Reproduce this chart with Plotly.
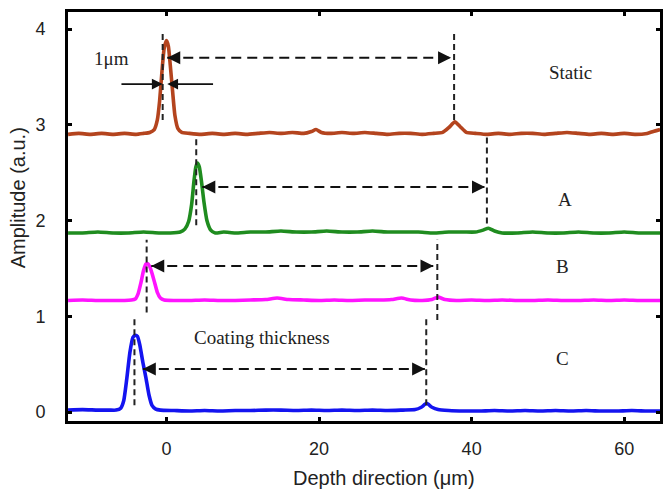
import plotly.graph_objects as go

# ---------------- data ----------------
static_x = [-12.9, -11.5, -10.0, -8.5, -7.0, -5.5, -4.0, -3.0,
            -2.2, -1.6, -1.2, -0.9, -0.6, -0.3, 0.0, 0.25,
            0.5, 0.8, 1.1, 1.5, 2.0, 3.0, 4.5, 6.0,
            7.5, 9.0, 10.5, 12.0, 13.5, 15.0, 16.5, 18.0,
            19.0, 19.6, 20.3, 21.5, 23.0, 24.5, 26.0, 27.5,
            29.0, 30.5, 32.0, 33.5, 35.0, 36.2, 37.0, 37.8,
            38.5, 39.3, 40.5, 42.0, 43.5, 45.0, 46.5, 48.0,
            49.5, 51.0, 52.5, 54.0, 55.5, 57.0, 58.5, 60.0,
            61.5, 63.0, 63.8, 64.7]
static_y = [2.90, 2.91, 2.90, 2.91, 2.90, 2.91, 2.90, 2.91,
            2.92, 2.95, 3.05, 3.25, 3.55, 3.80, 3.88, 3.82,
            3.62, 3.35, 3.10, 2.96, 2.92, 2.91, 2.90, 2.91,
            2.90, 2.91, 2.90, 2.91, 2.92, 2.91, 2.92, 2.91,
            2.93, 2.95, 2.92, 2.91, 2.92, 2.91, 2.92, 2.91,
            2.90, 2.91, 2.91, 2.90, 2.91, 2.92, 2.97, 3.03,
            2.98, 2.92, 2.91, 2.90, 2.91, 2.90, 2.91, 2.91,
            2.90, 2.91, 2.92, 2.91, 2.90, 2.91, 2.90, 2.91,
            2.90, 2.91, 2.93, 2.95]

a_x = [-12.9, -11.0, -9.0, -7.0, -5.0, -3.0, -1.0, 0.5,
       1.8, 2.4, 2.9, 3.3, 3.6, 3.85, 4.05, 4.3,
       4.6, 4.9, 5.3, 5.8, 6.4, 7.5, 9.0, 11.0,
       13.0, 15.0, 17.0, 19.0, 21.0, 23.0, 25.0, 27.0,
       29.0, 31.0, 33.0, 35.0, 37.0, 39.0, 40.5, 41.5,
       42.2, 43.0, 44.0, 46.0, 48.0, 50.0, 52.0, 54.0,
       56.0, 58.0, 60.0, 62.0, 64.7]
a_y = [1.87, 1.87, 1.88, 1.87, 1.87, 1.88, 1.87, 1.87,
       1.88, 1.91, 1.99, 2.17, 2.41, 2.56, 2.60, 2.56,
       2.40, 2.20, 2.00, 1.90, 1.87, 1.88, 1.87, 1.88,
       1.88, 1.89, 1.88, 1.88, 1.89, 1.88, 1.88, 1.89,
       1.88, 1.88, 1.88, 1.87, 1.88, 1.88, 1.88, 1.90,
       1.92, 1.89, 1.87, 1.87, 1.88, 1.87, 1.87, 1.88,
       1.87, 1.87, 1.88, 1.87, 1.87]

b_x = [-12.9, -11.0, -9.0, -7.0, -5.5, -4.6, -4.1, -3.7,
       -3.35, -3.0, -2.7, -2.45, -2.2, -1.9, -1.55, -1.2,
       -0.8, -0.3, 1.0, 3.0, 5.0, 7.0, 9.0, 11.0,
       13.0, 14.5, 16.0, 18.0, 20.0, 22.0, 24.0, 26.0,
       28.0, 29.5, 30.8, 32.0, 33.5, 34.8, 35.6, 36.5,
       38.0, 40.0, 42.0, 44.0, 46.0, 48.0, 50.0, 52.0,
       54.0, 56.0, 58.0, 60.0, 62.0, 64.7]
b_y = [1.165, 1.17, 1.165, 1.165, 1.165, 1.17, 1.18, 1.24,
       1.35, 1.48, 1.545, 1.55, 1.52, 1.45, 1.35, 1.25,
       1.19, 1.17, 1.165, 1.165, 1.17, 1.165, 1.165, 1.17,
       1.175, 1.19, 1.175, 1.17, 1.165, 1.17, 1.165, 1.17,
       1.17, 1.175, 1.19, 1.17, 1.165, 1.175, 1.20, 1.175,
       1.165, 1.17, 1.165, 1.17, 1.165, 1.165, 1.17, 1.165,
       1.165, 1.17, 1.165, 1.17, 1.165, 1.165]

c_x = [-12.9, -11.0, -9.0, -7.5, -6.6, -6.0, -5.6, -5.2,
       -4.8, -4.4, -4.1, -3.8, -3.5, -3.1, -2.7, -2.3,
       -1.9, -1.4, -0.8, 1.0, 3.0, 5.0, 7.0, 9.0,
       11.0, 13.0, 15.0, 17.0, 19.0, 21.0, 23.0, 25.0,
       27.0, 29.0, 31.0, 32.6, 33.4, 34.1, 34.8, 35.6,
       37.0, 39.0, 41.0, 43.0, 45.0, 47.0, 49.0, 51.0,
       53.0, 55.0, 57.0, 59.0, 61.0, 63.0, 64.7]
c_y = [0.02, 0.025, 0.02, 0.02, 0.02, 0.04, 0.12, 0.35,
       0.62, 0.78, 0.80, 0.79, 0.70, 0.52, 0.36, 0.18,
       0.07, 0.03, 0.02, 0.015, 0.01, 0.015, 0.01, 0.015,
       0.015, 0.02, 0.02, 0.015, 0.02, 0.015, 0.02, 0.015,
       0.02, 0.015, 0.02, 0.025, 0.05, 0.09, 0.05, 0.025,
       0.015, 0.01, 0.01, 0.015, 0.01, 0.015, 0.01, 0.015,
       0.01, 0.015, 0.01, 0.01, 0.015, 0.01, 0.01]

series_names = ["Static", "A", "B", "C"]
series_colors = ["#b4441e", "#1f8c1f", "#ff14ff", "#1414f0"]

# thickness markers: front / back surface reflections
front_x = [-0.5, 3.9, -2.6, -4.2]
back_x = [37.7, 42.0, 35.5, 34.05]
front_top = [3.97, 2.89, 1.80, 1.00]
front_bot = [3.05, 1.95, 1.04, 0.07]
back_top = [3.97, 2.87, 1.80, 0.98]
back_bot = [3.05, 1.97, 0.96, 0.07]
arrow_y = [3.70, 2.35, 1.525, 0.45]
arrow_left = [0.1, 4.7, -2.0, -3.1]
arrow_right = [37.3, 41.75, 35.0, 33.9]

label_x = [53.0, 52.2, 51.9, 51.9]
label_y = [3.55, 2.22, 1.525, 0.56]

# 1 µm width marker
width_y = 3.425
width_left = [-6.1, -0.5]   # tail, tip
width_right = [6.3, 0.1]    # tail, tip
width_text = ["1μm", -7.2, 3.69]
coating_text = ["Coating thickness", 12.5, 0.78]

x_ticks = [0, 20, 40, 60]
y_ticks = [0, 1, 2, 3, 4]
x_range = [-12.91, 64.69]
y_range = [-0.094, 4.178]

# ---------------- figure ----------------
fig = go.Figure()
for xs, ys, name, col in zip([static_x, a_x, b_x, c_x], [static_y, a_y, b_y, c_y],
                              series_names, series_colors):
    assert len(xs) == len(ys)
    fig.add_trace(go.Scatter(x=xs, y=ys, mode="lines", name=name,
                             line=dict(color=col, width=3.6, shape="spline", smoothing=0.5),
                             showlegend=False, hoverinfo="skip"))

shapes = []
annotations = []
serif = "Liberation Serif, Times New Roman, serif"
sans = "Liberation Sans, Arial, sans-serif"

for i in range(4):
    shapes.append(dict(type="line", xref="x", yref="y", x0=front_x[i], x1=front_x[i],
                       y0=front_bot[i], y1=front_top[i],
                       line=dict(color="#222", width=2, dash="6px,4px")))
    shapes.append(dict(type="line", xref="x", yref="y", x0=back_x[i], x1=back_x[i],
                       y0=back_bot[i], y1=back_top[i],
                       line=dict(color="#222", width=2, dash="6px,4px")))
    shapes.append(dict(type="line", xref="x", yref="y", x0=arrow_left[i], x1=arrow_right[i],
                       y0=arrow_y[i], y1=arrow_y[i],
                       line=dict(color="#111", width=2, dash="10px,6px")))
    # arrowheads
    annotations.append(dict(x=arrow_right[i], y=arrow_y[i], xref="x", yref="y", text="",
                            showarrow=True, ax=-12, ay=0, arrowhead=2, arrowsize=1.3,
                            arrowwidth=2, arrowcolor="#111", standoff=0))
    annotations.append(dict(x=arrow_left[i], y=arrow_y[i], xref="x", yref="y", text="",
                            showarrow=True, ax=12, ay=0, arrowhead=2, arrowsize=1.3,
                            arrowwidth=2, arrowcolor="#111", standoff=0))
    annotations.append(dict(x=label_x[i], y=label_y[i], xref="x", yref="y",
                            text=series_names[i], showarrow=False,
                            font=dict(family=serif, size=19, color="#222")))

# 1 µm marker arrows
annotations.append(dict(x=width_left[1], y=width_y, ax=width_left[0], ay=width_y,
                        xref="x", yref="y", axref="x", ayref="y", text="", showarrow=True,
                        arrowhead=2, arrowsize=1.2, arrowwidth=1.8, arrowcolor="#111", standoff=0))
annotations.append(dict(x=width_right[1], y=width_y, ax=width_right[0], ay=width_y,
                        xref="x", yref="y", axref="x", ayref="y", text="", showarrow=True,
                        arrowhead=2, arrowsize=1.2, arrowwidth=1.8, arrowcolor="#111", standoff=0))
annotations.append(dict(x=width_text[1], y=width_text[2], xref="x", yref="y",
                        text=width_text[0], showarrow=False,
                        font=dict(family=serif, size=19, color="#222")))
annotations.append(dict(x=coating_text[1], y=coating_text[2], xref="x", yref="y",
                        text=coating_text[0], showarrow=False,
                        font=dict(family=serif, size=19, color="#222")))

# axis titles
annotations.append(dict(x=0.533, y=-0.139, xref="paper", yref="paper",
                        text="Depth direction (μm)", showarrow=False,
                        xanchor="center", yanchor="middle",
                        font=dict(family=sans, size=20, color="#222")))
annotations.append(dict(x=-0.084, y=0.545, xref="paper", yref="paper",
                        text="Amplitude (a.u.)", showarrow=False, textangle=-90,
                        xanchor="center", yanchor="middle",
                        font=dict(family=sans, size=20, color="#222")))

axis_common = dict(showline=True, linecolor="black", linewidth=3, mirror="allticks",
                   ticks="inside", ticklen=4, tickwidth=3, tickcolor="black",
                   showgrid=False, zeroline=False,
                   tickfont=dict(family=sans, size=18, color="#222"))

fig.update_layout(
    width=665, height=494,
    margin=dict(l=68, r=2, t=12, b=73),
    paper_bgcolor="white", plot_bgcolor="white",
    xaxis=dict(range=x_range, tickvals=x_ticks, ticklabelstandoff=9, **axis_common),
    yaxis=dict(range=y_range, tickvals=y_ticks, ticklabelstandoff=16, **axis_common),
    shapes=shapes, annotations=annotations,
)

fig.write_html("out.html")
